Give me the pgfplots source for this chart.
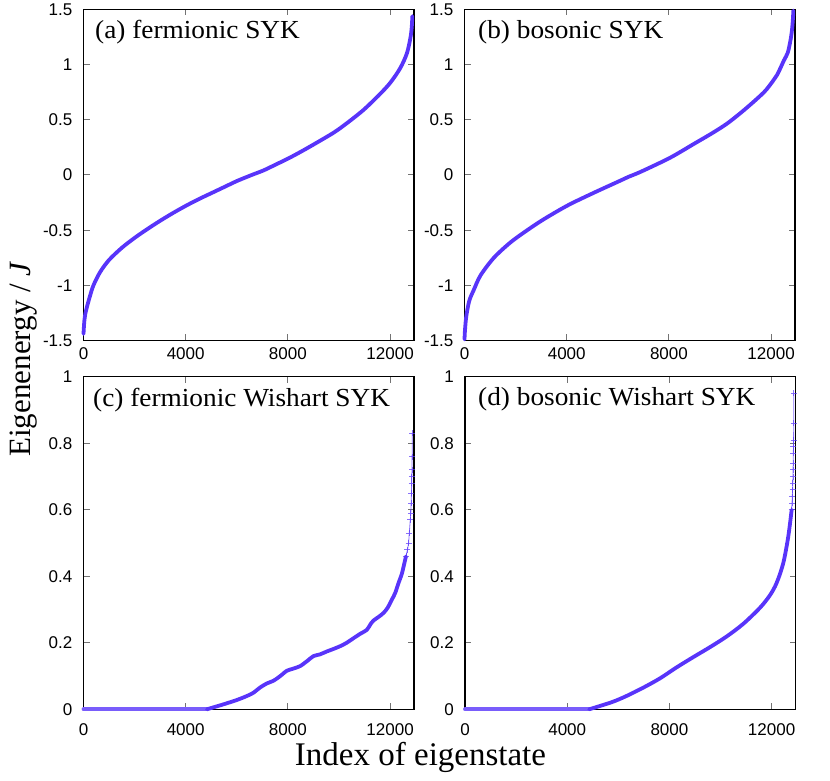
\documentclass[border=0pt]{standalone}
\usepackage{pgfplots}
\pgfplotsset{compat=1.18}
\usepackage{fontspec}
\setmainfont{Liberation Serif}
\newfontfamily\helv{Liberation Sans}
\definecolor{curve}{RGB}{88,52,250}

\pgfplotstableread{
x y
0 -1.44
30 -1.33
70 -1.26
130 -1.20
250 -1.10
390 -1.00
650 -0.88
1000 -0.77
1500 -0.66
2000 -0.57
2500 -0.49
3000 -0.415
3500 -0.345
4000 -0.28
4500 -0.22
5000 -0.165
5500 -0.11
6000 -0.055
6390 -0.018
6580 0
7050 0.042
7500 0.092
8016 0.15
8500 0.21
9010 0.277
9800 0.385
10310 0.47
10960 0.59
11610 0.735
12020 0.84
12400 0.97
12660 1.105
12800 1.25
12850 1.35
12870 1.44
}\dataA

\pgfplotstableread{
x y
0 -1.49
15 -1.42
50 -1.32
105 -1.23
200 -1.13
366 -1.04
627 -0.91
1150 -0.75
1804 -0.61
2457 -0.50
3111 -0.40
4052 -0.274
5072 -0.16
5987 -0.063
6435 -0.015
6600 0
7000 0.04
8052 0.157
9000 0.285
9700 0.38
10300 0.47
11000 0.60
11720 0.75
12065 0.85
12243 0.91
12504 1.04
12654 1.11
12765 1.23
12820 1.32
12855 1.42
12870 1.49
}\dataB

\pgfplotstableread{
x y
0 0
4830 0
}\dataCzero

\pgfplotstableread{
x y
4830 0
5090 0.006
5480 0.015
6000 0.028
6395 0.04
6655 0.05
6900 0.065
7180 0.078
7440 0.086
7700 0.10
7960 0.116
8200 0.122
8480 0.13
8750 0.145
9000 0.16
9250 0.165
9525 0.174
9800 0.182
10050 0.19
10300 0.20
10570 0.214
10850 0.228
11090 0.239
11250 0.258
11350 0.267
11550 0.278
11745 0.29
11900 0.305
12070 0.33
12200 0.35
12330 0.38
12450 0.405
12530 0.43
12620 0.46
}\dataC

\pgfplotstableread{
x y
12620 0.46
12680 0.48
12725 0.50
12750 0.53
12790 0.57
12810 0.59
12825 0.62
12835 0.65
12845 0.68
12850 0.70
12855 0.72
12862 0.76
12870 0.83
}\dataCtail

\pgfplotstableread{
x y
0 0
4860 0
}\dataDzero

\pgfplotstableread{
x y
4860 0
5280 0.01
5800 0.023
6320 0.04
6975 0.065
7630 0.093
8280 0.126
8935 0.157
9590 0.187
10240 0.219
10890 0.257
11540 0.305
11935 0.343
12196 0.38
12457 0.44
12653 0.52
12784 0.60
}\dataD

\pgfplotstableread{
x y
12784 0.60
12800 0.62
12810 0.64
12820 0.66
12830 0.68
12835 0.70
12840 0.72
12845 0.74
12850 0.77
12855 0.79
12860 0.81
12865 0.86
12870 0.95
}\dataDtail

\pgfplotsset{
  panel/.style={
    scale only axis, width=330.5pt, anchor=south west,
    xmin=0, xmax=12935, clip=false,
    axis line style={line width=1.2pt, black},
    tick align=inside, major tick length=6pt,
    tick style={line width=1pt, black!55},
    xtick={0,4000,8000,12000}, xticklabels={0,4000,8000,12000},
    ticklabel style={font=\helv\fontsize{17}{17}\selectfont, inner sep=0pt},
    yticklabel style={anchor=east, xshift=-11pt},
    scaled x ticks=false, scaled y ticks=false,
  },
  toprow/.style={panel, height=331pt, ymin=-1.5, ymax=1.5,
    ytick={-1.5,-1,-0.5,0,0.5,1,1.5},
    yticklabels={-1.5,-1,-0.5,0,0.5,1,1.5},
    xticklabel style={anchor=north, yshift=-7pt}},
  botrow/.style={panel, height=332.5pt, ymin=0, ymax=1,
    ytick={0,0.2,0.4,0.6,0.8,1},
    yticklabels={0,0.2,0.4,0.6,0.8,1},
    xticklabel style={anchor=north, yshift=-14pt}},
  thickc/.style={curve, line width=3.8pt, line join=round, line cap=round, no marks, smooth, tension=0.5},
  flatc/.style={curve!80, line width=3.8pt, line cap=round, no marks},
  tailc/.style={curve, line width=0.8pt, mark=+, mark size=3pt,
    mark options={line width=0.9pt}, opacity=0.7},
}

\begin{document}
\begin{tikzpicture}
\useasboundingbox (0,0) rectangle (830pt,780pt);

\begin{axis}[toprow, at={(83.5pt,439.5pt)}]
\addplot[thickc] table[x=x,y=y] {\dataA};
\end{axis}

\begin{axis}[toprow, at={(464.5pt,439.5pt)}]
\addplot[thickc] table[x=x,y=y] {\dataB};
\end{axis}

\begin{axis}[botrow, at={(83.5pt,70.7pt)}]
\addplot[flatc] table[x=x,y=y] {\dataCzero};
\addplot[thickc] table[x=x,y=y] {\dataC};
\addplot[tailc] table[x=x,y=y] {\dataCtail};
\end{axis}

\begin{axis}[botrow, at={(465pt,70.7pt)}]
\addplot[flatc] table[x=x,y=y] {\dataDzero};
\addplot[thickc] table[x=x,y=y] {\dataD};
\addplot[tailc] table[x=x,y=y] {\dataDtail};
\end{axis}

\begin{scope}[every node/.style={inner sep=0pt, font=\fontsize{26}{26}\selectfont, xscale=1.05}]
\node[anchor=base west] at (95pt,741pt) {(a) fermionic SYK};
\node[anchor=base west] at (478pt,741.5pt) {(b) bosonic SYK};
\node[anchor=base west] at (93pt,373pt) {(c) fermionic Wishart SYK};
\node[anchor=base west] at (478pt,374pt) {(d) bosonic Wishart SYK};
\end{scope}

\node[inner sep=0pt, anchor=base, rotate=90, font=\fontsize{31}{31}\selectfont] at (30pt,421pt) {Eigenenergy / \textit{J}};
\node[inner sep=0pt, anchor=base, font=\fontsize{33}{33}\selectfont] at (420.5pt,15pt) {Index of eigenstate};
\end{tikzpicture}
\end{document}
